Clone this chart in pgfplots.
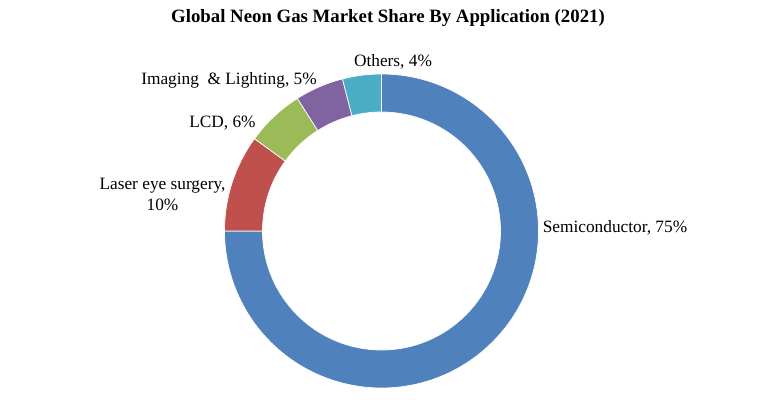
\documentclass[border=0pt]{standalone}
\usepackage{pgfplots}
\pgfplotsset{compat=1.18}
\usepackage{fontspec}
\setmainfont{Liberation Serif}
\definecolor{semi}{HTML}{4F81BD}
\definecolor{laser}{HTML}{C0504D}
\definecolor{lcd}{HTML}{9BBB59}
\definecolor{imag}{HTML}{8064A2}
\definecolor{oth}{HTML}{4BACC6}
% shares (%)
\def\vSemi{75}\def\vLaser{10}\def\vLCD{6}\def\vImag{5}\def\vOth{4}
\pgfmathsetmacro\aA{90}
\pgfmathsetmacro\aB{\aA-3.6*\vSemi}
\pgfmathsetmacro\aC{\aB-3.6*\vLaser}
\pgfmathsetmacro\aD{\aC-3.6*\vLCD}
\pgfmathsetmacro\aE{\aD-3.6*\vImag}
\pgfmathsetmacro\aF{\aE-3.6*\vOth}
\newcommand\slice[3]{%
  \fill[#3, draw=white, line width=0.7pt] ([shift={(#1:157pt)}]axis cs:381.5,168) arc[start angle=#1, end angle=#2, radius=157pt]
    -- ([shift={(#2:119pt)}]axis cs:381.5,168) arc[start angle=#2, end angle=#1, radius=119pt] -- cycle;}
\tikzset{lbl/.style={font=\fontsize{17.3}{21}\selectfont, inner sep=0pt}}
\begin{document}
\begin{tikzpicture}
\begin{axis}[x=1pt, y=1pt, xmin=0, xmax=781, ymin=0, ymax=399, hide axis, clip=false]
\path (axis cs:0,0) rectangle (axis cs:781,399);
\slice{\aA}{\aB}{semi}
\slice{\aB}{\aC}{laser}
\slice{\aC}{\aD}{lcd}
\slice{\aD}{\aE}{imag}
\slice{\aE}{\aF}{oth}
\node[font=\bfseries\fontsize{18.8}{22}\selectfont, inner sep=0pt] at (axis cs:388,381) {Global Neon Gas Market Share By Application (2021)};
\node[lbl] at (axis cs:393,337) {Others, 4\%};
\node[lbl] at (axis cs:229,319) {Imaging\ \ \& Lighting, 5\%};
\node[lbl] at (axis cs:222.5,276) {LCD, 6\%};
\node[lbl, align=center] at (axis cs:162.5,204.5) {Laser eye surgery,\\10\%};
\node[lbl] at (axis cs:615,171) {Semiconductor, 75\%};
\end{axis}
\end{tikzpicture}
\end{document}
